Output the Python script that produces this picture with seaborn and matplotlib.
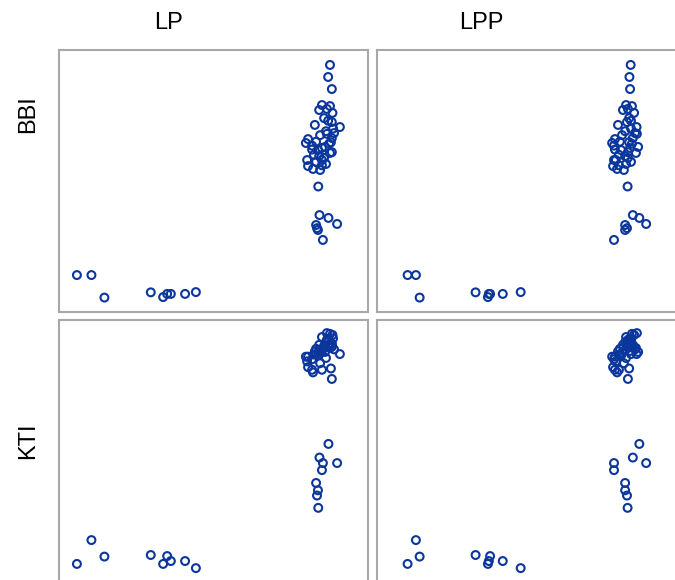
import matplotlib
matplotlib.use("Agg")
import matplotlib.pyplot as plt
import seaborn as sns
import pandas as pd

# Four measured variables per sample (each list index is one sample)
LP = [
    5.8, 10.5, 14.7, 29.7, 33.7, 35.0, 36.2, 40.8, 44.3,
    87.7, 87.1, 88.3, 83.9,
    90.0, 87.2, 84.3, 85.4, 83.2, 83.8, 85.1, 83.5,
    85.1, 87.7, 86.7, 84.2, 88.5, 82.8, 90.9, 88.3, 85.8, 87.1,
    80.6, 88.3, 89.0, 84.5, 86.4, 83.2, 81.9, 85.1, 87.4, 83.8,
    86.1, 87.7, 80.3, 84.2, 82.5, 85.8, 80.6, 82.2, 84.5, 86.4,
    83.2, 85.1, 88.3, 81.9, 88.0, 86.7, 88.7, 79.9,
]
LPP = [
    9.9, 12.6, 13.8, 31.9, 35.9, 36.6, 36.2, 40.7, 46.5,
    82.1, 81.7, 81.9, 81.1,
    87.1, 84.9, 82.8, 76.7, 80.3, 80.3, 76.7, 80.9,
    80.6, 82.5, 81.2, 79.6, 83.2, 78.0, 84.0, 80.9, 81.6, 82.2,
    77.0, 82.8, 83.5, 79.3, 80.3, 78.6, 76.7, 81.9, 82.5, 79.0,
    84.5, 83.8, 77.3, 80.3, 78.3, 81.2, 76.4, 77.7, 79.9, 80.6,
    82.2, 78.3, 81.2, 77.0, 81.6, 84.1, 82.2, 76.1,
]
BBI = [
    14.1, 14.1, 5.5, 7.5, 5.7, 6.9, 6.9, 6.9, 7.6,
    94.3, 89.7, 85.1, 47.9,
    33.6, 35.9, 37.0, 27.5, 33.2, 31.3, 58.0, 32.0,
    79.0, 78.6, 77.5, 77.1, 76.0, 71.4, 70.6, 72.5, 74.0, 73.0,
    66.0, 66.4, 68.3, 67.5, 69.0, 65.0, 63.5, 62.6, 64.2, 61.8,
    63.0, 60.7, 58.0, 59.5, 60.0, 58.8, 55.7, 54.6, 54.2, 56.5,
    57.3, 56.0, 61.0, 62.0, 64.8, 68.0, 70.0, 64.5,
]
KTI = [
    6.9, 16.0, 9.7, 10.3, 6.9, 9.9, 8.0, 8.0, 5.3,
    91.0, 92.8, 89.8, 28.3,
    45.4, 52.7, 47.5, 45.4, 37.8, 35.0, 42.7, 33.0,
    93.5, 94.7, 92.4, 90.5, 94.3, 88.0, 87.0, 91.0, 89.5, 92.0,
    86.0, 90.5, 88.8, 87.5, 91.5, 89.0, 85.0, 88.2, 90.0, 86.5,
    87.8, 89.3, 84.2, 88.5, 86.8, 90.2, 82.0, 80.0, 83.5, 85.5,
    87.0, 81.0, 77.5, 81.0, 81.5, 95.0, 93.0, 86.0,
]

x_vars = ["LP", "LPP"]
y_vars = ["BBI", "KTI"]

df = pd.DataFrame({"LP": LP, "LPP": LPP, "BBI": BBI, "KTI": KTI})

sns.set_style("white")
plt.rcParams["font.family"] = ["Liberation Sans", "DejaVu Sans"]

W, H = 675, 580
fig = plt.figure(figsize=(W / 100, H / 100), dpi=100)

# panel geometry in pixels (left edges, top edges, size)
col_left = [59, 377]
row_top = [50, 320]
pw, ph = 309, 262

marker_color = "#0b369c"
frame_color = "#a8a8a8"

for r, yv in enumerate(y_vars):
    for c, xv in enumerate(x_vars):
        ax = fig.add_axes([col_left[c] / W, 1 - (row_top[r] + ph) / H, pw / W, ph / H])
        sns.scatterplot(
            data=df, x=xv, y=yv, ax=ax,
            marker="o", s=32, facecolor="none",
            edgecolor=marker_color, linewidth=1.5, legend=False,
        )
        ax.set_xlim(0, 100)
        ax.set_ylim(0, 100)
        ax.set_xticks([])
        ax.set_yticks([])
        ax.set_xlabel("")
        ax.set_ylabel("")
        for sp in ax.spines.values():
            sp.set_visible(True)
            sp.set_color(frame_color)
            sp.set_linewidth(1.5)

# strip labels for columns and rows
fig.text(169 / W, 1 - 23 / H, "LP", ha="center", va="center", fontsize=17, color="black")
fig.text(481 / W, 1 - 23 / H, "LPP", ha="center", va="center", fontsize=17, color="black")
fig.text(28 / W, 1 - 114 / H, "BBI", ha="center", va="center", rotation=90, fontsize=17, color="black")
fig.text(28 / W, 1 - 441 / H, "KTI", ha="center", va="center", rotation=90, fontsize=17, color="black")

fig.savefig("out.png", dpi=100)
